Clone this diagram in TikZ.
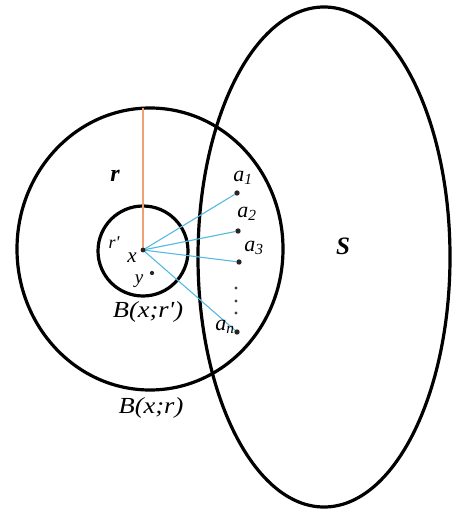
\documentclass[tikz,border=0pt]{standalone}
\usepackage{fontspec}
\setmainfont{Liberation Serif}
\usetikzlibrary{calc}

\definecolor{raycol}{RGB}{85,185,225}
\definecolor{radcol}{RGB}{240,160,115}

\tikzset{
  ring/.style={line width=3.2pt, black},
  ray/.style={line width=1.1pt, raycol},
  dotpt/.style={circle, fill=black!85, inner sep=1.9pt},
  lab/.style={font=\fontsize{23}{25}\selectfont\itshape, inner sep=0pt},
  sublab/.style={font=\fontsize{22}{24}\selectfont\itshape, inner sep=0pt}
}

\begin{document}
\begin{tikzpicture}[x=1pt, y=-1pt]
  \useasboundingbox (0,0) rectangle (453,513);

  % --- the set S ---
  \draw[ring] (324,257) ellipse [x radius=126, y radius=250];

  % --- balls B(x;r) and B(x;r') ---
  \draw[ring] (150,249) ellipse [x radius=133, y radius=141];
  \draw[ring] (143,251) circle [radius=45];

  % --- centre and radius r ---
  \coordinate (x) at (143,250);
  \coordinate (top) at (143,108);
  \draw[radcol, line width=1.1pt] (x) -- (top);

  % --- points a_i ---
  \node[dotpt] (a1) at (237,193) {};
  \node[dotpt] (a2) at (238,231) {};
  \node[dotpt] (a3) at (239,262) {};
  \node[dotpt] (an) at (237,332) {};
  \foreach \yy [count=\i] in {288,301,313}
    \node[circle, fill=black!75, inner sep=1.1pt] (d\i) at (236,\yy) {};

  \foreach \p in {a1,a2,a3,an}
    \draw[ray] (x) -- (\p);
  \fill[black!85] (x) circle (2.4pt);
  \node[dotpt, inner sep=1.5pt] (y) at (152,273) {};

  % --- labels ---
  \node[lab, font=\fontsize{24}{26}\selectfont\bfseries\itshape] (rlab) at (115,176) {r};
  \node[lab, font=\fontsize{25}{27}\selectfont\bfseries\itshape] (slab) at (343,246) {S};
  \node[sublab, font=\fontsize{18}{20}\selectfont\itshape] (rplab) at (114,243) {r\textquotesingle};
  \node[lab, font=\fontsize{21}{23}\selectfont\itshape] (xlab) at (132,258) {x};
  \node[sublab, font=\fontsize{19}{21}\selectfont\itshape] (ylab) at (139,281) {y};
  \node[lab, xscale=1.15] (bsmall) at (148,312) {B(x;r\textquotesingle)};
  \node[lab, xscale=1.15] (bbig) at (151,408) {B(x;r)};

  \node[sublab] (a1lab) at (243,178) {a\textsubscript{1}};
  \node[sublab] (a2lab) at (247,214) {a\textsubscript{2}};
  \node[sublab] (a3lab) at (254,248) {a\textsubscript{3}};
  \node[sublab] (anlab) at (225,327) {a\textsubscript{n}};
\end{tikzpicture}
\end{document}
